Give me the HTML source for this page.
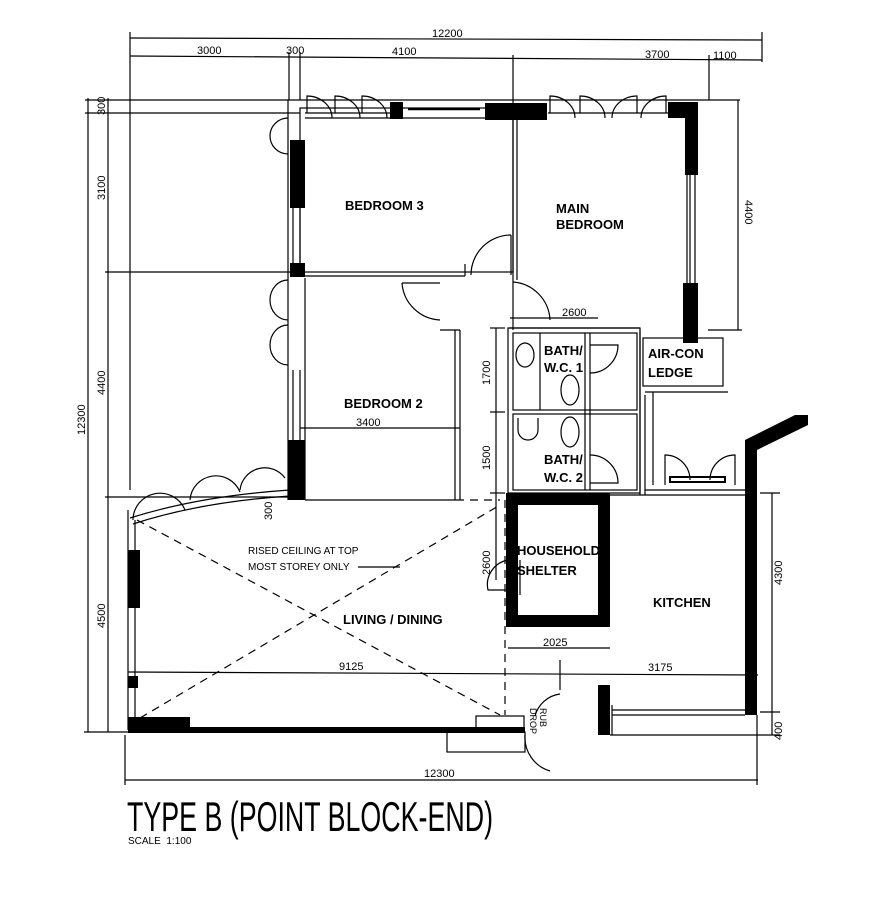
<!DOCTYPE html>
<html><head><meta charset="utf-8"><style>
html,body{margin:0;padding:0;background:#fff;width:881px;height:909px;overflow:hidden}
svg{display:block}
text{font-family:"Liberation Sans",sans-serif;fill:#000}
.l{font-weight:bold;font-size:13px}
.d{font-size:11px}
</style></head><body>
<svg width="881" height="909" viewBox="0 0 881 909" xmlns="http://www.w3.org/2000/svg">
<g stroke="#000" fill="none" stroke-width="1.2">
<!-- dimension lines top -->
<line x1="130" y1="38" x2="762" y2="40"/>
<line x1="130" y1="56" x2="762" y2="60"/>
<line x1="130" y1="32" x2="130" y2="490"/>
<line x1="762" y1="32" x2="762" y2="62"/>
<line x1="289" y1="52" x2="289" y2="100"/><line x1="300" y1="52" x2="300" y2="100"/>
<line x1="513" y1="55" x2="513" y2="330"/>
<line x1="709" y1="55" x2="709" y2="100"/>
<!-- left vertical dims -->
<line x1="88" y1="98" x2="88" y2="732"/>
<line x1="108" y1="98" x2="108" y2="732"/>
<line x1="85" y1="100" x2="300" y2="100"/>
<line x1="85" y1="113" x2="300" y2="113"/>
<line x1="105" y1="272" x2="290" y2="272"/>
<line x1="105" y1="497" x2="290" y2="497"/>
<line x1="84" y1="732" x2="135" y2="732"/>
<!-- right dim 4400 -->
<line x1="700" y1="100" x2="740" y2="100"/>
<line x1="738" y1="100" x2="738" y2="330"/>
<line x1="708" y1="330" x2="742" y2="330"/>
<!-- 2600 -->
<line x1="510" y1="318" x2="598" y2="318"/>
<!-- bath dims -->
<line x1="496" y1="328" x2="496" y2="580"/>
<line x1="490" y1="328" x2="505" y2="328"/>
<line x1="490" y1="412" x2="505" y2="412"/>
<line x1="490" y1="493" x2="505" y2="493"/>
<!-- 2025 -->
<line x1="508" y1="648" x2="610" y2="648"/>
<!-- 9125/3175 -->
<line x1="128" y1="672" x2="758" y2="675"/>
<line x1="560" y1="660" x2="560" y2="690"/>
<!-- 4300 -->
<line x1="772" y1="493" x2="772" y2="735"/>
<line x1="760" y1="493" x2="780" y2="493"/>
<line x1="760" y1="712" x2="780" y2="712"/>
<line x1="610" y1="735" x2="780" y2="735"/>
<!-- bottom dim -->
<line x1="125" y1="780" x2="758" y2="780"/>
<line x1="125" y1="735" x2="125" y2="785"/>
<line x1="757" y1="715" x2="757" y2="785"/>
<!-- top wall windows/doors -->
<line x1="300" y1="100" x2="700" y2="100"/>
<line x1="305" y1="113" x2="390" y2="113"/>
<line x1="548" y1="113" x2="668" y2="113"/>
<line x1="408" y1="109" x2="480" y2="109" stroke-width="2.5"/>
<path d="M307 113 v-17 a25 22 0 0 1 25 22"/>
<path d="M335 113 v-17 a25 22 0 0 1 25 22"/>
<path d="M362 113 v-17 a25 22 0 0 1 25 22"/>
<path d="M550 113 v-17 a25 22 0 0 1 25 22"/>
<path d="M580 113 v-17 a25 22 0 0 1 25 22"/>
<path d="M637 113 v-17 a25 22 0 0 0 -25 22"/>
<path d="M666 113 v-17 a25 22 0 0 0 -25 22"/>
<!-- left column -->
<line x1="288" y1="100" x2="288" y2="500"/>
<line x1="293" y1="208" x2="293" y2="263"/>
<line x1="300" y1="208" x2="300" y2="263"/>
<line x1="293" y1="370" x2="293" y2="440"/>
<line x1="300" y1="370" x2="300" y2="440"/>
<path d="M288 118 a18 18 0 0 0 0 36"/>
<path d="M288 280 a18 20 0 0 0 0 40"/>
<path d="M288 325 a18 20 0 0 0 0 40"/>
<!-- right wall window -->
<line x1="687" y1="175" x2="687" y2="283"/>
<line x1="695" y1="175" x2="695" y2="283"/>
<!-- Bedroom 3 -->
<rect x="300" y="108" width="213" height="164"/>
<line x1="305" y1="118" x2="512" y2="118"/>
<line x1="300" y1="276" x2="465" y2="276"/>
<line x1="465" y1="264" x2="465" y2="276"/>
<!-- main bedroom -->
<line x1="517" y1="118" x2="517" y2="280"/>
<line x1="690" y1="118" x2="690" y2="330"/>
<line x1="509" y1="328" x2="640" y2="328"/>
<!-- doors arcs -->
<path d="M511 235 A40 40 0 0 0 471 275"/><line x1="511" y1="235" x2="511" y2="275"/>
<path d="M513 282 A40 40 0 0 1 550 320"/>
<path d="M440 320 A40 40 0 0 1 402 283"/><line x1="402" y1="283" x2="440" y2="283"/>
<!-- bedroom 2 -->
<line x1="305" y1="278" x2="305" y2="500"/>
<line x1="455" y1="330" x2="455" y2="500"/>
<line x1="460" y1="330" x2="460" y2="500"/>
<line x1="440" y1="330" x2="460" y2="330"/>
<line x1="300" y1="428" x2="460" y2="428"/>
<line x1="305" y1="500" x2="456" y2="500"/>
<!-- baths -->
<rect x="508" y="328" width="132" height="165"/>
<rect x="513" y="333" width="124" height="77"/>
<rect x="513" y="414" width="124" height="76"/>
<line x1="540" y1="333" x2="540" y2="410"/>
<line x1="585" y1="333" x2="585" y2="490"/>
<line x1="590" y1="333" x2="590" y2="490"/>
<ellipse cx="525" cy="355" rx="9" ry="12"/>
<ellipse cx="570" cy="390" rx="9" ry="15"/>
<ellipse cx="570" cy="432" rx="9" ry="15"/>
<path d="M518 418 v12 a10 10 0 0 0 20 0 v-12"/>
<path d="M590 345 h28 a28 28 0 0 1 -28 28"/>
<path d="M590 455 a28 28 0 0 1 28 28 h-28"/>
<line x1="640" y1="330" x2="640" y2="495"/>
<line x1="645" y1="395" x2="645" y2="495"/>
<!-- air-con -->
<rect x="643" y="338" width="80" height="48"/>
<line x1="645" y1="392" x2="728" y2="392"/>
<line x1="653" y1="392" x2="653" y2="485"/>
<path d="M665 485 v-30 a25 25 0 0 1 25 25"/>
<path d="M735 485 v-30 a25 25 0 0 0 -25 25"/>
<line x1="645" y1="490" x2="750" y2="490"/>
<rect x="670" y="477" width="55" height="5" stroke-width="2"/>
<!-- shelter door -->
<path d="M508 560 a25 25 0 0 0 -20 30 h20"/>
<line x1="520" y1="560" x2="520" y2="595"/>
<!-- kitchen -->
<line x1="610" y1="495" x2="745" y2="495"/>
<line x1="612" y1="710" x2="745" y2="710"/>
<line x1="612" y1="715" x2="745" y2="715"/>
<!-- living -->
<line x1="135" y1="520" x2="135" y2="720"/>
<line x1="128" y1="510" x2="128" y2="730"/>
<path d="M130 518 Q200 496 290 490"/>
<path d="M133 524 Q200 502 290 496"/>
<path d="M133 520 a27 27 0 0 1 52 -10"/>
<path d="M190 500 a26 26 0 0 1 50 -8"/>
<path d="M240 490 a25 25 0 0 1 45 -12"/>
<!-- bottom -->
<rect x="476" y="716" width="48" height="16"/>
<rect x="447" y="732" width="78" height="20"/>
<path d="M525 735 a35 35 0 0 0 25 36"/>
<path d="M535 716 a30 30 0 0 1 25 -22"/>
<line x1="612" y1="705" x2="612" y2="735"/>
<!-- dashed -->
<g stroke-dasharray="8,6">
<line x1="137" y1="520" x2="500" y2="715"/>
<line x1="140" y1="718" x2="500" y2="505"/>
<line x1="505" y1="500" x2="505" y2="715"/>
<line x1="456" y1="500" x2="500" y2="500"/>
</g>
<line x1="358" y1="567" x2="400" y2="567"/>
</g>
<!-- black walls -->
<g fill="#000">
<rect x="390" y="102" width="13" height="17"/>
<rect x="485" y="103" width="62" height="17"/>
<rect x="668" y="102" width="30" height="16"/>
<rect x="685" y="102" width="13" height="73"/>
<rect x="683" y="283" width="15" height="60"/>
<rect x="290" y="140" width="15" height="68"/>
<rect x="290" y="263" width="15" height="14"/>
<rect x="288" y="440" width="17" height="60"/>
<rect x="506" y="493" width="104" height="12"/>
<rect x="506" y="493" width="12" height="134"/>
<rect x="598" y="493" width="12" height="134"/>
<rect x="506" y="615" width="104" height="12"/>
<rect x="745" y="440" width="12" height="275"/>
<polygon points="745,440 795,415 808,415 808,425 757,450"/>
<rect x="128" y="550" width="12" height="58"/>
<rect x="128" y="676" width="10" height="12"/>
<rect x="128" y="717" width="62" height="14"/>
<rect x="128" y="727" width="397" height="6"/>
<rect x="598" y="685" width="12" height="50"/>
</g>
<!-- text -->
<text class="d" x="432" y="37">12200</text>
<text class="d" x="197" y="54">3000</text>
<text class="d" x="286" y="54">300</text>
<text class="d" x="392" y="55">4100</text>
<text class="d" x="645" y="58">3700</text>
<text class="d" x="713" y="59">1100</text>
<text class="d" transform="translate(105,200) rotate(-90)">3100</text>
<text class="d" transform="translate(105,115) rotate(-90)">300</text>
<text class="d" transform="translate(105,395) rotate(-90)">4400</text>
<text class="d" transform="translate(85,435) rotate(-90)">12300</text>
<text class="d" transform="translate(105,628) rotate(-90)">4500</text>
<text class="d" transform="translate(745,200) rotate(90)">4400</text>
<text class="d" transform="translate(490,385) rotate(-90)">1700</text>
<text class="d" transform="translate(490,470) rotate(-90)">1500</text>
<text class="d" transform="translate(490,575) rotate(-90)">2600</text>
<text class="d" transform="translate(272,520) rotate(-90)">300</text>
<text class="d" transform="translate(782,585) rotate(-90)">4300</text>
<text class="d" transform="translate(782,740) rotate(-90)">400</text>
<text class="d" x="562" y="316">2600</text>
<text class="d" x="356" y="426">3400</text>
<text class="d" x="543" y="646">2025</text>
<text class="d" x="339" y="670">9125</text>
<text class="d" x="648" y="671">3175</text>
<text class="d" x="424" y="777">12300</text>
<text class="l" x="345" y="210">BEDROOM 3</text>
<text class="l" x="556" y="213">MAIN</text>
<text class="l" x="556" y="229">BEDROOM</text>
<text class="l" x="344" y="408">BEDROOM 2</text>
<text class="l" x="544" y="355">BATH/</text>
<text class="l" x="544" y="372">W.C. 1</text>
<text class="l" x="544" y="464">BATH/</text>
<text class="l" x="544" y="482">W.C. 2</text>
<text class="l" x="648" y="358">AIR-CON</text>
<text class="l" x="648" y="377">LEDGE</text>
<text class="l" x="517" y="555">HOUSEHOLD</text>
<text class="l" x="517" y="575">SHELTER</text>
<text class="l" x="653" y="607">KITCHEN</text>
<text class="l" x="343" y="624">LIVING / DINING</text>
<text style="font-size:10px" x="248" y="554">RISED CEILING AT TOP</text>
<text style="font-size:10px" x="248" y="570">MOST STOREY ONLY</text>
<text style="font-size:9px" transform="translate(540,708) rotate(90)">RUB</text>
<text style="font-size:9px" transform="translate(530,708) rotate(90)">DROP</text>
<text x="127" y="831" style="font-size:42px" textLength="366" lengthAdjust="spacingAndGlyphs">TYPE B (POINT BLOCK-END)</text>
<text x="128" y="844" style="font-size:10px">SCALE &#160;1:100</text>
</svg>
</body></html>
